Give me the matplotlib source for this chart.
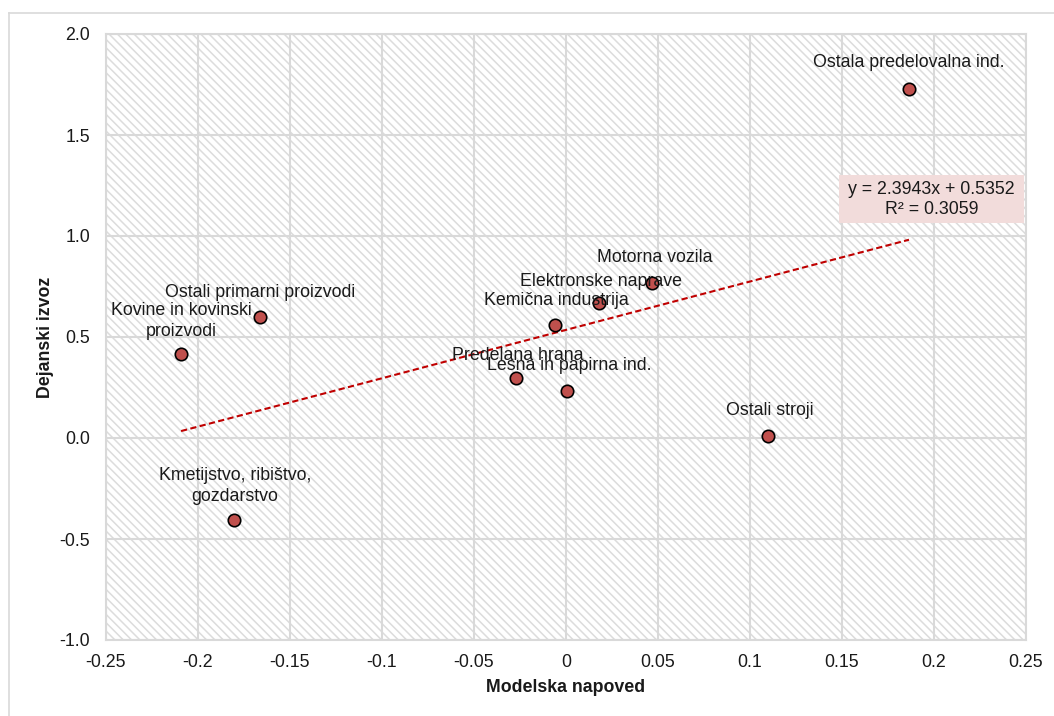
import matplotlib
matplotlib.use("Agg")
import matplotlib.pyplot as plt
from matplotlib.patches import Rectangle
from matplotlib.lines import Line2D

plt.rcParams['font.family'] = ['Liberation Sans', 'DejaVu Sans']
plt.rcParams['hatch.color'] = '#dcdcdc'
plt.rcParams['hatch.linewidth'] = 1.1

# ---- data ----
sectors = ["Ostala predelovalna ind.", "Motorna vozila", "Elektronske naprave",
           "Kemična industrija", "Predelana hrana", "Lesna in papirna ind.",
           "Ostali stroji", "Ostali primarni proizvodi",
           "Kovine in kovinski\nproizvodi", "Kmetijstvo, ribištvo,\ngozdarstvo"]
model_pred = [0.1864, 0.0467, 0.0179, -0.0060, -0.0272, 0.0005, 0.1098, -0.1663, -0.2092, -0.1804]
actual_exp = [1.728, 0.767, 0.668, 0.559, 0.297, 0.233, 0.010, 0.599, 0.416, -0.406]
trend_slope = 2.3943
trend_intercept = 0.5352
r_squared = 0.3059
x_ticks = [-0.25, -0.2, -0.15, -0.1, -0.05, 0, 0.05, 0.1, 0.15, 0.2, 0.25]
x_tick_labels = ["-0.25", "-0.2", "-0.15", "-0.1", "-0.05", "0", "0.05", "0.1", "0.15", "0.2", "0.25"]
y_ticks = [-1.0, -0.5, 0.0, 0.5, 1.0, 1.5, 2.0]
y_tick_labels = ["-1.0", "-0.5", "0.0", "0.5", "1.0", "1.5", "2.0"]

# label offsets in pixels (dx, dy up)
label_offsets = [(0, 26), (3, 26), (2, 22), (1, 25), (2, 23), (2, 25), (2, 25), (0, 25), (0, 33), (1, 34)]

W, H = 1054, 716
fig = plt.figure(figsize=(W / 100, H / 100), dpi=100)
ax = fig.add_axes([106 / W, 1 - 640 / H, 920 / W, 606 / H])

FS = 12.8
GRID = '#d9d9d9'
TXT = '#1a1a1a'

ax.set_xlim(-0.25, 0.25)
ax.set_ylim(-1.0, 2.0)
ax.add_patch(Rectangle((0, 0), 1, 1, transform=ax.transAxes, facecolor='white',
                       edgecolor='#dcdcdc', linewidth=0, hatch='\\\\\\\\', zorder=0))
ax.set_xticks(x_ticks)
ax.set_xticklabels(x_tick_labels)
ax.set_yticks(y_ticks)
ax.set_yticklabels(y_tick_labels)
ax.tick_params(length=0, labelsize=FS, colors=TXT)
ax.tick_params(axis='x', pad=10)
ax.tick_params(axis='y', pad=11.5)
ax.grid(True, color=GRID, linewidth=1.5, zorder=1)
ax.set_axisbelow(True)
for s in ax.spines.values():
    s.set_color(GRID)
    s.set_linewidth(1.5)

# trend line
xmin, xmax = min(model_pred), max(model_pred)
ax.plot([xmin, xmax], [trend_slope * xmin + trend_intercept, trend_slope * xmax + trend_intercept],
        color='#C00000', linestyle=(0, (3, 1.6)), linewidth=1.5, zorder=3)

ax.scatter(model_pred, actual_exp, s=80, facecolor='#C0504D', edgecolor='black',
           linewidth=1.2, zorder=4)

for name, x, y, (dx, dy) in zip(sectors, model_pred, actual_exp, label_offsets):
    ax.annotate(name, (x, y), xytext=(dx * 0.72, dy * 0.72), textcoords='offset points',
                ha='center', va='center', fontsize=FS, color=TXT,
                linespacing=1.32, zorder=5)

# equation box
ax.add_patch(Rectangle((0.1484, 1.064), 0.1005, 0.238, facecolor='#F2DCDB',
                       edgecolor='none', zorder=5))
ax.text(0.1986, 1.181, f"y = {trend_slope}x + {trend_intercept}\nR² = {r_squared}",
        ha='center', va='center', fontsize=FS, color=TXT, multialignment='center',
        linespacing=1.2, zorder=6)

ax.set_xlabel("Modelska napoved", fontsize=FS, fontweight='bold', color=TXT)
ax.set_ylabel("Dejanski izvoz", fontsize=FS, fontweight='bold', color=TXT)
ax.xaxis.set_label_coords(0.5, -0.064)
ax.yaxis.set_label_coords(-0.056, 0.5)

# outer chart frame
fig.add_artist(Line2D([9 / W, 9 / W], [0, 1 - 12.5 / H], transform=fig.transFigure,
                      color=GRID, linewidth=1.2))
fig.add_artist(Line2D([9 / W, 1], [1 - 12.5 / H, 1 - 12.5 / H], transform=fig.transFigure,
                      color=GRID, linewidth=1.2))

fig.savefig("out.png", dpi=100)
